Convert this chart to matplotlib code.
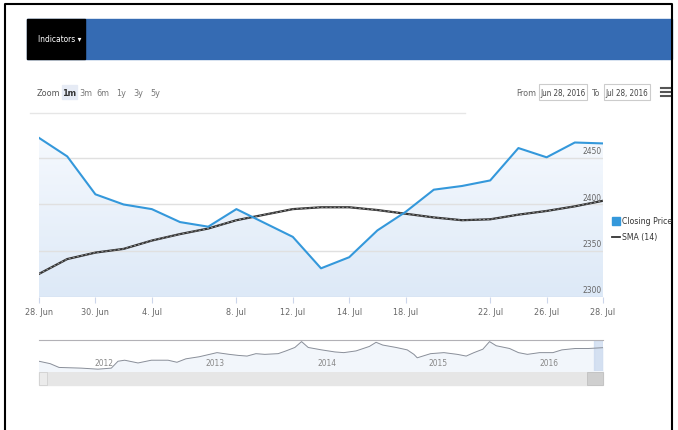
import numpy as np
import matplotlib
matplotlib.use("Agg")
import matplotlib.pyplot as plt
from matplotlib.patches import Rectangle, Polygon

plt.rcParams['font.family'] = ['DejaVu Sans']
plt.rcParams['font.stretch'] = 'condensed'

# daily closes, 28 Jun - 28 Jul 2016 (trading days)
closing_price = [2472, 2452, 2411, 2400, 2395, 2381, 2376, 2395, 2380, 2365, 2331,
                 2343, 2372, 2392, 2416, 2420, 2426, 2461, 2451, 2467, 2466]
sma_14 = [2325, 2341, 2348, 2352, 2361, 2368, 2374, 2383, 2389, 2395, 2397,
          2397, 2394, 2390, 2386, 2383, 2384, 2389, 2393, 2398, 2404]
tick_idx = [0, 2, 4, 7, 9, 11, 13, 16, 18, 20]
tick_labels = ["28. Jun", "30. Jun", "4. Jul", "8. Jul", "12. Jul", "14. Jul",
               "18. Jul", "22. Jul", "26. Jul", "28. Jul"]
y_ticks = [2300, 2350, 2400, 2450]

# navigator: long-range history
nav_year = [2011.50, 2011.60, 2011.68, 2011.88, 2012.03, 2012.15, 2012.21, 2012.27,
            2012.39, 2012.51, 2012.66, 2012.74, 2012.82, 2012.94, 2013.10, 2013.21,
            2013.29, 2013.37, 2013.45, 2013.53, 2013.65, 2013.72, 2013.80, 2013.86,
            2013.92, 2014.04, 2014.16, 2014.24, 2014.35, 2014.47, 2014.53, 2014.59,
            2014.71, 2014.81, 2014.87, 2014.90, 2015.02, 2015.14, 2015.26, 2015.34,
            2015.41, 2015.49, 2015.55, 2015.61, 2015.73, 2015.81, 2015.89, 2016.00,
            2016.12, 2016.20, 2016.32, 2016.44, 2016.57]
nav_value = [1875, 1770, 1605, 1575, 1530, 1575, 1875, 1920, 1800, 1920, 1920, 1830,
             1980, 2070, 2250, 2175, 2130, 2100, 2205, 2175, 2205, 2325, 2475, 2730,
             2475, 2370, 2280, 2250, 2325, 2520, 2700, 2580, 2475, 2370, 2175, 2025,
             2205, 2250, 2175, 2100, 2250, 2400, 2730, 2550, 2430, 2250, 2175, 2250,
             2250, 2370, 2430, 2430, 2466]
nav_years = [2012, 2013, 2014, 2015, 2016]

W, H = 678, 431
fig = plt.figure(figsize=(W / 100, H / 100), dpi=100)


def box(x0, y0, x1, y1):
    # pixel box (top-left origin) -> figure fraction rect
    return [x0 / W, 1 - y1 / H, (x1 - x0) / W, (y1 - y0) / H]


# page layer for the surrounding widgets
page = fig.add_axes([0, 0, 1, 1])
page.set_xlim(0, W)
page.set_ylim(H, 0)
page.axis("off")

page.plot([5, 5, 672, 672], [431, 5, 5, 431], color="black", lw=1.5)
page.add_patch(Rectangle((27, 20), 645, 40, color="#356bb3"))
page.add_patch(Rectangle((27, 20), 58, 40, color="black"))
page.text(38, 40, "Indicators \u25be", color="white", fontsize=6, va="center")

page.text(37, 93, "Zoom", fontsize=6.5, color="#555555", va="center")
page.add_patch(Rectangle((62, 86), 15, 14, color="#e6ebf5"))
for lab, x in zip(["1m", "3m", "6m", "1y", "3y", "5y"], [69.5, 86, 103, 121, 138, 155]):
    page.text(x, 93, lab, fontsize=6.5, color="#333333" if lab == "1m" else "#777777",
              weight="bold" if lab == "1m" else "normal", ha="center", va="center")
page.plot([30, 465], [114, 114], color="#e6e6e6", lw=1)

page.text(536, 93, "From", fontsize=6.5, color="#666666", ha="right", va="center")
page.add_patch(Rectangle((539, 85), 48, 16, fill=False, ec="#cccccc", lw=0.8))
page.text(563, 93, "Jun 28, 2016", fontsize=5.8, color="#444444", ha="center", va="center")
page.text(592, 93, "To", fontsize=6.5, color="#666666", va="center")
page.add_patch(Rectangle((604, 85), 46, 16, fill=False, ec="#cccccc", lw=0.8))
page.text(627, 93, "Jul 28, 2016", fontsize=5.8, color="#444444", ha="center", va="center")
for yy in [89, 93, 97]:
    page.plot([661, 670], [yy, yy], color="#555555", lw=1.5)

# main price chart
ax = fig.add_axes(box(39, 125, 603, 298))
x = np.arange(len(closing_price))
ax.set_xlim(0, len(closing_price) - 1)
ax.set_ylim(2300, 2487)
for s in ax.spines.values():
    s.set_visible(False)
for v in y_ticks[1:]:
    ax.axhline(v, color="#e0e0e0", lw=1, zorder=1)
ax.axhline(2300, color="#ccd6eb", lw=1, zorder=1)

# gradient area under the closing price
grad = np.linspace(0, 1, 256).reshape(-1, 1)
img = ax.imshow(grad, extent=[0, x[-1], 2300, 2487], origin="lower", aspect="auto",
                cmap=matplotlib.colors.LinearSegmentedColormap.from_list(
                    "fill", ["#dde9f7", "#f7fafe"]), zorder=0)
verts = [(0, 2300)] + list(zip(x, closing_price)) + [(x[-1], 2300)]
clip = Polygon(verts, transform=ax.transData, facecolor="none", edgecolor="none")
ax.add_patch(clip)
img.set_clip_path(clip)

ax.plot(x, sma_14, color="#333333", lw=1.6, zorder=3)
ax.plot(x, sma_14, color="#aaaaaa", lw=0.5, dashes=(3, 3), zorder=3)
ax.plot(x, closing_price, color="#3498db", lw=1.5, zorder=4)

ax.set_yticks([])
ax.set_xticks(tick_idx)
ax.set_xticklabels(tick_labels, fontsize=6.5, color="#666666")
ax.tick_params(axis="x", length=4, color="#ccd6eb", pad=3)
for v in y_ticks:
    ax.text(x[-1] - 0.05, v + 3, str(v), fontsize=6, color="#666666",
            ha="right", va="bottom", zorder=5)

# legend to the right of the plot
page.add_patch(Rectangle((612, 218), 8, 8, color="#3498db"))
page.text(622, 222, "Closing Price", fontsize=6.2, color="#333333", va="center")
page.plot([612, 620], [238, 238], color="#333333", lw=1.3)
page.text(622, 238, "SMA (14)", fontsize=6.2, color="#333333", va="center")

# navigator
nav = fig.add_axes(box(39, 341, 603, 372))
nav.set_xlim(nav_year[0], nav_year[-1])
nav.set_ylim(1450, 2800)
for s in nav.spines.values():
    s.set_visible(False)
nav.spines["top"].set_visible(True)
nav.spines["top"].set_color("#b2b1b6")
nav.plot(nav_year, nav_value, color="#8a8f99", lw=0.7)
nav.fill_between(nav_year, nav_value, 1450, color="#f2f6fb", zorder=0)
nav.set_yticks([])
nav.set_xticks(nav_years)
nav.set_xticklabels([str(v) for v in nav_years], fontsize=6, color="#888888")
nav.tick_params(axis="x", direction="in", pad=-9, length=0)
for lab in nav.get_xticklabels():
    lab.set_horizontalalignment("left")
nav.axvspan(2016.49, nav_year[-1], color="#c8d8ee", alpha=0.7)

# scrollbar
page.add_patch(Rectangle((39, 373), 564, 13, color="#e6e6e6"))
page.add_patch(Rectangle((39, 373), 8, 13, color="#ebebeb", ec="#cccccc", lw=0.5))
page.add_patch(Rectangle((587, 373), 16, 13, color="#cfcfcf", ec="#bbbbbb", lw=0.5))

fig.savefig("out.png", dpi=100)
